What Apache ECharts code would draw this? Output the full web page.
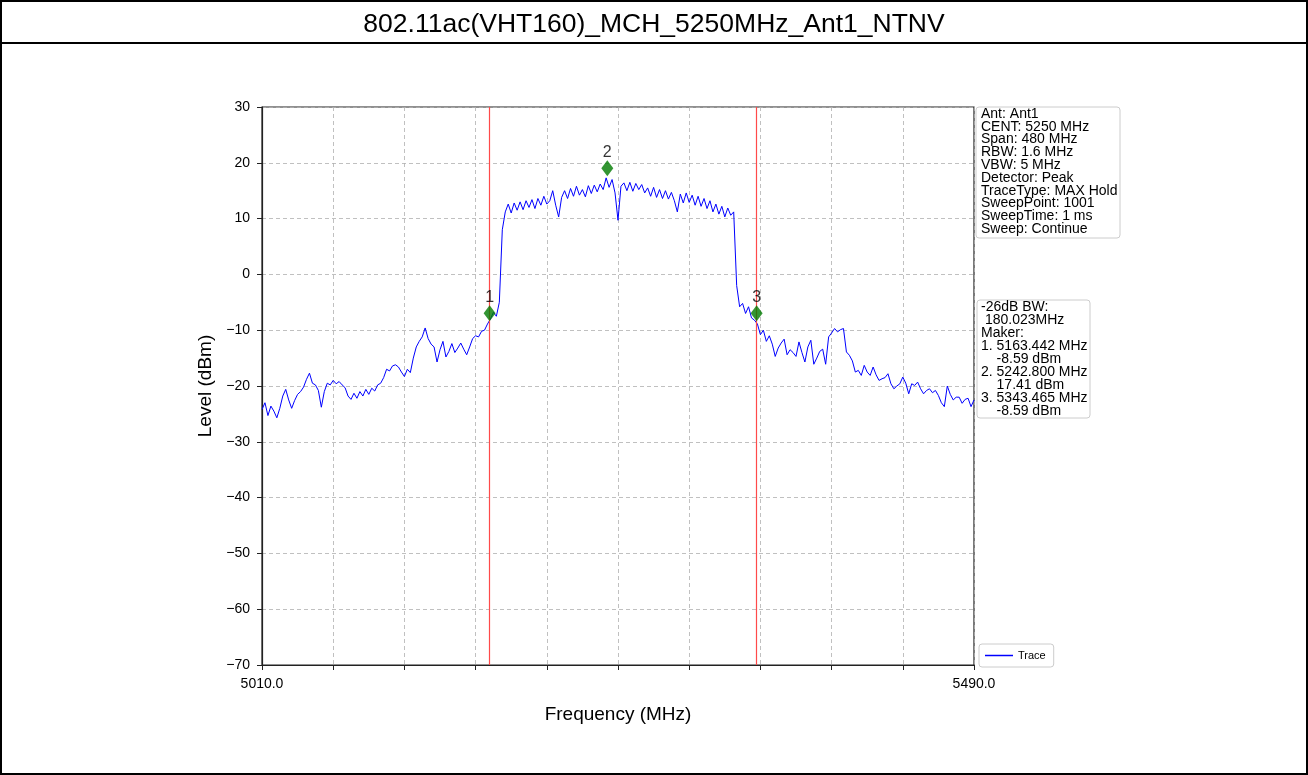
<!DOCTYPE html>
<html>
<head>
<meta charset="utf-8">
<script src="https://cdn.jsdelivr.net/npm/echarts@6/dist/echarts.min.js"></script>
<style>
  html, body { margin: 0; padding: 0; background: #fff; }
  #chart { width: 1308px; height: 775px; }
</style>
</head>
<body>
<div id="chart"></div>
<script>
  //扫描起点和步进 (MHz)
  var startFreq = 5010;
  var stepFreq = 2;

  //迹线电平 (dBm)，每 2 MHz 一个点
  var traceLevel = [
    -24.2, -23.0, -25.3, -23.6, -24.5, -25.7, -24.0, -21.8, -20.6, -22.5,
    -24.0, -22.6, -21.5, -21.0, -20.2, -18.8, -17.7, -19.5, -19.8, -20.8,
    -23.8, -21.0, -19.5, -19.8, -19.0, -19.6, -19.2, -19.8, -20.3, -21.8,
    -22.4, -21.3, -22.2, -21.0, -21.8, -20.6, -21.5, -20.4, -20.9, -19.8,
    -19.5, -18.5, -17.0, -17.3, -16.4, -16.2, -16.6, -17.5, -18.3, -17.0,
    -17.6, -15.0, -13.0, -12.0, -11.2, -9.6, -11.5, -12.5, -13.0, -15.7,
    -13.5, -12.0, -14.8, -13.8, -12.4, -14.0, -13.2, -12.3, -13.4, -14.4,
    -13.0, -11.5, -11.0, -11.2, -10.2, -10.0, -8.9, -8.0, -6.8, -7.5,
    -5.0, 8.0, 11.2, 12.6, 11.0, 12.8, 11.5, 13.0, 11.6, 13.2,
    12.0, 13.4, 11.8, 13.6, 12.4, 14.0, 12.6, 13.2, 15.0, 12.4,
    10.3, 13.8, 15.0, 13.6, 15.4, 14.0, 15.8, 14.2, 15.2, 13.9,
    15.9, 14.5, 16.0, 14.8, 16.2, 15.2, 17.3, 15.6, 17.0, 14.6,
    9.7, 15.8, 16.4, 15.0, 16.5, 14.9, 16.3, 15.2, 16.1, 14.6,
    15.5, 14.0, 15.6, 13.8, 15.2, 13.6, 15.0, 13.5, 14.7, 13.2,
    11.2, 14.4, 12.8, 14.6, 12.9, 14.2, 12.4, 14.0, 12.2, 13.6,
    11.8, 13.2, 11.2, 12.6, 10.8, 12.2, 10.3, 11.9, 10.6, 11.2,
    -2.0, -5.8, -5.2, -7.0, -5.8, -7.8, -8.2, -8.9, -10.8, -10.0,
    -12.0, -11.0, -12.5, -14.7, -13.2, -12.3, -11.6, -14.4, -13.5, -14.0,
    -14.7, -12.1, -14.0, -15.7, -13.0, -11.8, -16.1, -15.0, -13.8, -13.4,
    -16.1, -11.2, -10.5, -9.7, -10.3, -9.9, -9.7, -13.9, -14.5, -15.5,
    -17.5, -17.2, -18.1, -16.3, -17.5, -18.1, -16.6, -18.0, -19.0, -18.7,
    -18.5, -17.8, -19.6, -20.5, -20.0, -19.6, -18.4, -19.5, -21.4, -19.6,
    -19.9, -19.3, -20.5, -21.4, -20.8, -20.5, -21.2, -20.8, -21.7, -23.0,
    -23.7, -20.0, -21.5, -22.5, -22.0, -22.0, -23.1, -22.4, -22.2, -23.7,
    -22.5
  ];

  //Marker
  var markerFreq = [5163.442, 5242.800, 5343.465];
  var markerLevel = [-8.59, 17.41, -8.59];
  var markerName = ['1', '2', '3'];

  //-26dB 带宽边界
  var bwLines = [5163.442, 5343.465];

  //右侧信息
  var infoLines = [
    'Ant: Ant1',
    'CENT: 5250 MHz',
    'Span: 480 MHz',
    'RBW: 1.6 MHz',
    'VBW: 5 MHz',
    'Detector: Peak',
    'TraceType: MAX Hold',
    'SweepPoint: 1001',
    'SweepTime: 1 ms',
    'Sweep: Continue'
  ];
  var bwInfoLines = [
    '-26dB BW:',
    ' 180.023MHz',
    'Maker:',
    '1. 5163.442 MHz',
    '    -8.59 dBm',
    '2. 5242.800 MHz',
    '    17.41 dBm',
    '3. 5343.465 MHz',
    '    -8.59 dBm'
  ];

  var FONT = '"Liberation Sans", Arial, sans-serif';

  var traceData = [];
  for (var i = 0; i < traceLevel.length; i++) {
    traceData.push([startFreq + i * stepFreq, traceLevel[i]]);
  }
  var markerData = [];
  for (var j = 0; j < markerFreq.length; j++) {
    markerData.push({ value: [markerFreq[j], markerLevel[j]], name: markerName[j] });
  }

  function minus(v) {
    return String(v).replace('-', '\u2212');
  }

  var chart = echarts.init(document.getElementById('chart'));
  var option = {
    animation: false,
    backgroundColor: '#fff',
    title: {
      text: '802.11ac(VHT160)_MCH_5250MHz_Ant1_NTNV',
      left: 'center',
      top: 6,
      textStyle: { fontFamily: FONT, fontSize: 26.5, fontWeight: 'normal', color: '#000' }
    },
    grid: {
      left: 262, right: 334, top: 107, bottom: 110,
      show: true, borderColor: '#222', borderWidth: 1.2, backgroundColor: 'transparent'
    },
    legend: {
      data: [{ name: 'Trace', icon: 'rect' }],
      left: 979, top: 644,
      orient: 'vertical',
      itemWidth: 28, itemHeight: 1.5,
      padding: [6, 8, 6, 6],
      borderColor: '#ccc', borderWidth: 1, borderRadius: 3,
      textStyle: { fontFamily: FONT, fontSize: 11, color: '#000' }
    },
    xAxis: {
      type: 'value',
      min: 5010, max: 5490, interval: 48,
      name: 'Frequency (MHz)',
      nameLocation: 'middle',
      nameGap: 40,
      nameTextStyle: { fontFamily: FONT, fontSize: 19, color: '#000' },
      axisLine: { onZero: false, lineStyle: { color: '#222', width: 1.2 } },
      axisTick: { show: true, inside: false, length: 5, lineStyle: { color: '#222' } },
      axisLabel: {
        fontFamily: FONT, fontSize: 14, color: '#000', margin: 12,
        formatter: function (v) {
          if (v === 5010 || v === 5490) {
            return v.toFixed(1);
          }
          return '';
        }
      },
      splitLine: { show: true, lineStyle: { color: '#b0b0b0', type: [4, 3], width: 0.8 } }
    },
    yAxis: {
      type: 'value',
      min: -70, max: 30, interval: 10,
      name: 'Level (dBm)',
      nameLocation: 'middle',
      nameGap: 46,
      nameTextStyle: { fontFamily: FONT, fontSize: 19, color: '#000' },
      axisLine: { show: true, onZero: false, lineStyle: { color: '#222', width: 1.2 } },
      axisTick: { show: true, inside: false, length: 5, lineStyle: { color: '#222' } },
      axisLabel: { fontFamily: FONT, fontSize: 14, color: '#000', margin: 12, formatter: minus },
      splitLine: { show: true, lineStyle: { color: '#b0b0b0', type: [4, 3], width: 0.8 } }
    },
    series: [{
      name: 'Trace',
      type: 'line',
      data: traceData,
      symbol: 'none',
      lineStyle: { color: '#0000ff', width: 1 },
      itemStyle: { color: '#0000ff' },
      z: 3,
      markLine: {
        silent: true,
        symbol: 'none',
        label: { show: false },
        lineStyle: { color: '#ff4a4a', type: 'solid', width: 1.2 },
        data: bwLines.map(function (f) { return { xAxis: f }; })
      }
    }, {
      name: 'Marker',
      type: 'scatter',
      data: markerData,
      symbol: 'diamond',
      symbolSize: [12, 16],
      symbolOffset: [0, -9],
      itemStyle: { color: '#007a00' },
      z: 5,
      label: {
        show: true,
        position: 'top',
        distance: 0,
        formatter: '{b}',
        fontFamily: FONT, fontSize: 16, color: '#000'
      }
    }],
    graphic: [{
      type: 'rect',
      shape: { x: 1, y: 1, width: 1306, height: 773 },
      style: { fill: 'none', stroke: '#000', lineWidth: 2 },
      silent: true
    }, {
      type: 'line',
      shape: { x1: 0, y1: 43, x2: 1308, y2: 43 },
      style: { stroke: '#000', lineWidth: 2 },
      silent: true
    }, {
      type: 'rect',
      shape: { x: 976, y: 107, width: 144, height: 131, r: 3 },
      style: { fill: '#fff', stroke: '#cccccc', lineWidth: 1 },
      silent: true
    }, {
      type: 'text',
      left: 981, top: 107,
      style: { text: infoLines.join('\n'), font: '14px ' + FONT, fill: '#000', lineHeight: 12.8 },
      silent: true
    }, {
      type: 'rect',
      shape: { x: 977, y: 300, width: 113, height: 118, r: 3 },
      style: { fill: '#fff', stroke: '#cccccc', lineWidth: 1 },
      silent: true
    }, {
      type: 'text',
      left: 981, top: 300,
      style: { text: bwInfoLines.join('\n'), font: '14px ' + FONT, fill: '#000', lineHeight: 13 },
      silent: true
    }]
  };
  chart.setOption(option);
</script>
</body>
</html>
